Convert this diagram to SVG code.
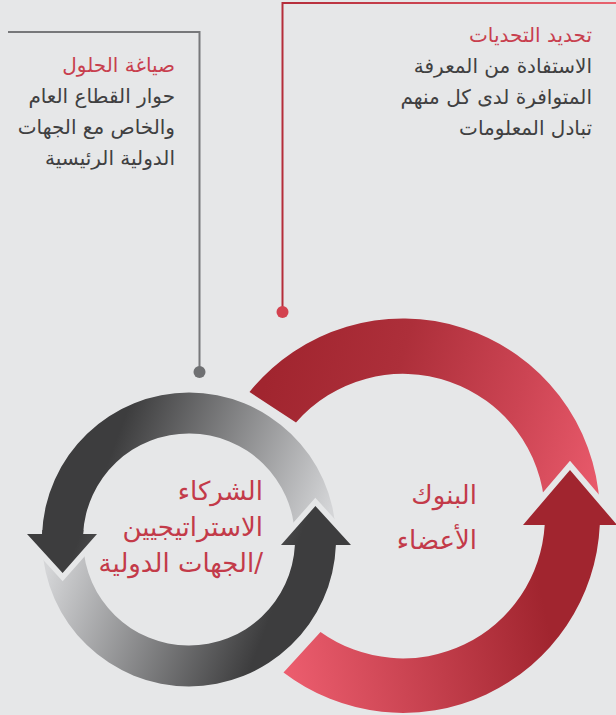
<svg xmlns="http://www.w3.org/2000/svg" width="616" height="715" viewBox="0 0 616 715">
  <defs>
    <style>
      .ar { font-family: "DejaVu Sans", "Noto Sans", sans-serif; direction: rtl; text-anchor: start; }
      .body { font-size: 20px; fill: #404041; }
      .title { font-size: 20px; fill: #c83f4e; }
      .label { font-size: 26px; fill: #c33a49; }
      .cut { fill: #e6e7e8; stroke: #e6e7e8; stroke-linejoin: miter; stroke-miterlimit: 10; }
    </style>
    <linearGradient id="gRedUp" gradientUnits="userSpaceOnUse" x1="260" y1="400" x2="600" y2="500">
      <stop offset="0" stop-color="#a1252f"/>
      <stop offset="0.35" stop-color="#ad2f3a"/>
      <stop offset="0.7" stop-color="#cc4453"/>
      <stop offset="1" stop-color="#ea5b6c"/>
    </linearGradient>
    <linearGradient id="gRedLow" gradientUnits="userSpaceOnUse" x1="285" y1="665" x2="545" y2="610">
      <stop offset="0" stop-color="#ec5d6e"/>
      <stop offset="1" stop-color="#a1252f"/>
    </linearGradient>
    <linearGradient id="gGrayUp" gradientUnits="userSpaceOnUse" x1="120" y1="430" x2="330" y2="510">
      <stop offset="0" stop-color="#3d3d3e"/>
      <stop offset="1" stop-color="#d4d5d7"/>
    </linearGradient>
    <linearGradient id="gGrayLow" gradientUnits="userSpaceOnUse" x1="258" y1="649" x2="48" y2="569">
      <stop offset="0" stop-color="#3d3d3e"/>
      <stop offset="1" stop-color="#d4d5d7"/>
    </linearGradient>
    <linearGradient id="gRedLine" gradientUnits="userSpaceOnUse" x1="283" y1="0" x2="616" y2="0">
      <stop offset="0" stop-color="#b52d3a"/>
      <stop offset="1" stop-color="#e8636f"/>
    </linearGradient>
  </defs>

  <rect width="616" height="715" fill="#e6e7e8"/>

  <g id="connectors">
    <path d="M616,3 H282.5 V312" fill="none" stroke="url(#gRedLine)" stroke-width="2"/>
    <circle cx="282.5" cy="312" r="6" fill="#d3424f"/>
    <path d="M8,32 H199.5 V372" fill="none" stroke="#77787a" stroke-width="2"/>
    <circle cx="199.5" cy="372" r="6" fill="#6f7072"/>
  </g>

  <g id="ring-banks">
    <path d="M249.5,392 A197,197 0 0 1 599.7,505.7 L544.8,508.6 A142,142 0 0 0 296,422.5 Z" fill="url(#gRedUp)"/>
    <path class="cut" d="M523,525 L570,470 L617,525 Z" stroke-width="12"/>
    <path d="M283.5,672.5 A197,197 0 0 0 599.8,525 L617,525 L570,470 L523,525 L544.7,525 A142,142 0 0 1 320.5,632 Z" fill="url(#gRedLow)"/>
    <text class="ar label" x="477" y="504">البنوك</text>
    <text class="ar label" x="477" y="549">الأعضاء</text>
  </g>

  <g id="ring-partners">
    <path d="M335.9,534.4 A147,147 0 0 0 42.1,534 L27,534 L62.6,573 L97,534 L83.1,534 A106,106 0 0 1 294.9,535.8 Z" fill="url(#gGrayUp)"/>
    <path class="cut" d="M281,545 L315.4,506 L351,545" stroke-width="11"/>
    <path d="M42.1,544.6 A147,147 0 0 0 335.9,545 L351,545 L315.4,506 L281,545 L294.9,545 A106,106 0 0 1 83.1,543.2 Z" fill="url(#gGrayLow)"/>
    <path class="cut" d="M27,534 L62.6,573 L97,534" stroke-width="11"/>
    <path d="M27,534 L42.1,534 L42.3,530 L83.4,530 L83.1,534 L97,534 L62.6,573 Z" fill="url(#gGrayUp)"/>
    <text class="ar label" x="263" y="500">الشركاء</text>
    <text class="ar label" x="263" y="536">الاستراتيجيين</text>
    <text class="ar label" x="263" y="572">/الجهات الدولية</text>
  </g>

  <g id="callout-challenges">
    <text class="ar title" x="592" y="42">تحديد التحديات</text>
    <text class="ar body" x="592" y="73">الاستفادة من المعرفة</text>
    <text class="ar body" x="592" y="104">المتوافرة لدى كل منهم</text>
    <text class="ar body" x="592" y="135">تبادل المعلومات</text>
  </g>

  <g id="callout-solutions">
    <text class="ar title" x="175" y="72">صياغة الحلول</text>
    <text class="ar body" x="175" y="103">حوار القطاع العام</text>
    <text class="ar body" x="175" y="134">والخاص مع الجهات</text>
    <text class="ar body" x="175" y="165">الدولية الرئيسية</text>
  </g>
</svg>
